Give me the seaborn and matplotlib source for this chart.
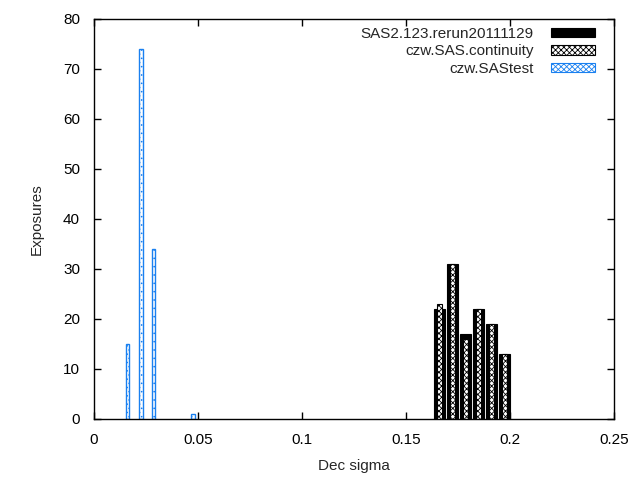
import pandas as pd
import seaborn as sns
import matplotlib.pyplot as plt
from matplotlib.patches import Patch

# histogram bin centres (bin width 0.00625) and counts
rerun_x = [0.1661, 0.1724, 0.1786, 0.1849, 0.1911, 0.1974]
rerun_n = [22, 31, 17, 22, 19, 13]

cont_x = [0.1661, 0.1724, 0.1786, 0.1849, 0.1911, 0.1974]
cont_n = [23, 31, 16, 22, 19, 13]

test_x = [0.0161, 0.0224, 0.0286, 0.0474]
test_n = [15, 74, 34, 1]

labels = ["SAS2.123.rerun20111129", "czw.SAS.continuity", "czw.SAStest"]
blue = "#1a80f0"

sns.set_style("ticks", {"xtick.direction": "in", "ytick.direction": "in"})
plt.rcParams["font.family"] = ["Liberation Sans", "DejaVu Sans"]
plt.rcParams["font.size"] = 11
plt.rcParams["hatch.linewidth"] = 0.6

fig = plt.figure(figsize=(6.4, 4.8), dpi=100)
ax = fig.add_axes([94 / 640, 1 - 419 / 480, 520 / 640, 400 / 480])

df_rerun = pd.DataFrame({"x": rerun_x, "n": rerun_n})
df_cont = pd.DataFrame({"x": cont_x, "n": cont_n})
df_test = pd.DataFrame({"x": test_x, "n": test_n})

sns.barplot(data=df_rerun, x="x", y="n", native_scale=True, width=0.85, errorbar=None,
            color="black", edgecolor="black", linewidth=0.8, saturation=1, ax=ax)
sns.barplot(data=df_cont, x="x", y="n", native_scale=True, width=0.4, errorbar=None,
            color="white", edgecolor="black", linewidth=0.8, hatch="xxxxxx", saturation=1, ax=ax)
sns.barplot(data=df_test, x="x", y="n", native_scale=True, width=0.3, errorbar=None,
            color="white", edgecolor=blue, linewidth=1.0, hatch="....", saturation=1, ax=ax)

ax.set_xlim(0, 0.25)
ax.set_ylim(0, 80)
ax.set_xticks([0, 0.05, 0.1, 0.15, 0.2, 0.25])
ax.set_xticklabels(["0", "0.05", "0.1", "0.15", "0.2", "0.25"])
ax.set_yticks(range(0, 81, 10))
ax.tick_params(which="both", top=True, right=True, length=5, width=1, pad=10,
               labelsize=11, colors="black")
for s in ax.spines.values():
    s.set_linewidth(1)
    s.set_color("black")

ax.set_xlabel("Dec sigma", fontsize=11, labelpad=9)
ax.set_ylabel("Exposures", fontsize=11, labelpad=14)

handles = [
    Patch(facecolor="black", edgecolor="black", linewidth=0.8),
    Patch(facecolor="white", edgecolor="black", hatch="xxxxxx", linewidth=0.8),
    Patch(facecolor="white", edgecolor=blue, hatch="xxxxxx", linewidth=0.8),
]
ax.legend(handles, labels, loc="upper right", bbox_to_anchor=(0.975, 0.995), frameon=False,
          markerfirst=False, handlelength=2.9, handleheight=0.55, handletextpad=1.1,
          labelspacing=0.22, fontsize=11, borderaxespad=0)

fig.savefig("out.png", dpi=100)
